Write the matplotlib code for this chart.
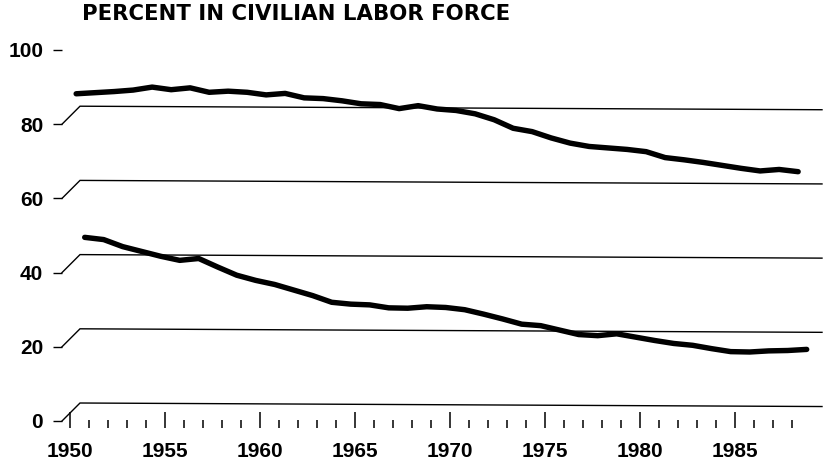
import numpy as np
import matplotlib
matplotlib.use("Agg")
import matplotlib.pyplot as plt
from matplotlib.ticker import FixedLocator

# ------------------------------------------------------------
# Data: percent of men in the civilian labor force, 1950-1988
# ------------------------------------------------------------

years = np.arange(1950, 1989)

men_55_64 = [88.2, 88.5, 88.8, 89.2, 90.0, 89.3, 89.8, 88.6, 88.9, 88.6,
             87.9, 88.3, 87.1, 86.9, 86.3, 85.5, 85.3, 84.2, 85.0, 84.1,
             83.7, 82.8, 81.2, 78.9, 78.0, 76.3, 74.9, 74.0, 73.6, 73.2,
             72.6, 71.0, 70.4, 69.7, 68.9, 68.1, 67.4, 67.8, 67.2]

men_65_plus = [49.5, 48.9, 47.0, 45.7, 44.4, 43.3, 43.8, 41.5, 39.3, 37.9,
               36.8, 35.3, 33.8, 32.0, 31.5, 31.3, 30.5, 30.4, 30.8, 30.6,
               30.0, 28.8, 27.5, 26.1, 25.7, 24.5, 23.3, 23.0, 23.5, 22.6,
               21.7, 20.9, 20.4, 19.5, 18.7, 18.6, 18.9, 19.0, 19.3]

y_ticks = [0, 20, 40, 60, 80, 100]
grid_levels = [0, 20, 40, 60, 80]
x_major = [1950, 1955, 1960, 1965, 1970, 1975, 1980, 1985]
x_minor = list(range(1950, 1989))
title = "PERCENT IN CIVILIAN LABOR FORCE"

# ------------------------------------------------------------
# Layout helpers (pixel geometry of the 825x468 canvas)
# ------------------------------------------------------------

W, H, DPI = 825, 468, 100


def px_to_year(x):
    return 1950 + (x - 69.5) / 19.0


def px_to_pct(y):
    return (421 - y) / 3.71


plt.rcParams["font.family"] = ["Liberation Sans", "DejaVu Sans"]
plt.rcParams["font.weight"] = "bold"

fig = plt.figure(figsize=(W / DPI, H / DPI), dpi=DPI)
left_px, right_px, top_px, bottom_px = 62, 822, 40, 428
ax = fig.add_axes([left_px / W, 1 - bottom_px / H,
                   (right_px - left_px) / W, (bottom_px - top_px) / H])
ax.set_xlim(px_to_year(left_px), px_to_year(right_px))
ax.set_ylim(px_to_pct(bottom_px), px_to_pct(top_px))
for s in ax.spines.values():
    s.set_visible(False)

# raised reference lines, each joined to its tick by a short slanted stroke
x0 = px_to_year(left_px)
x_knee = px_to_year(80)
x_end = px_to_year(822)
for lvl in grid_levels:
    ax.plot([x0, x_knee, x_end], [lvl, lvl + 4.85, lvl + 3.9],
            color="black", lw=1.0, clip_on=False, solid_joinstyle="miter")

# the two series
ax.plot(years + 0.35, men_55_64, color="black", lw=3.9,
        solid_capstyle="round", solid_joinstyle="round")
ax.plot(years + 0.8, men_65_plus, color="black", lw=3.9,
        solid_capstyle="round", solid_joinstyle="round")

# y axis: outward dashes with labels
ax.yaxis.set_major_locator(FixedLocator(y_ticks))
ax.set_yticklabels([str(v) for v in y_ticks])
ax.tick_params(axis="y", direction="out", length=6.5, width=1.0,
               pad=7, labelsize=15, colors="black")

# x axis: year ticks standing up from the baseline, no spine
ax.xaxis.set_major_locator(FixedLocator(x_major))
ax.xaxis.set_minor_locator(FixedLocator([y for y in x_minor if y not in x_major]))
ax.set_xticklabels([str(y) for y in x_major])
ax.tick_params(axis="x", which="major", direction="in", length=11.5, width=1.1,
               pad=10, labelsize=15, colors="black")
ax.tick_params(axis="x", which="minor", direction="in", length=5.8, width=1.1)

fig.text(82 / W, 1 - 20 / H, title, fontsize=15.3, fontweight="bold",
         family=["DejaVu Sans"], ha="left", va="baseline")

fig.savefig("out.png", dpi=DPI, facecolor="white")
